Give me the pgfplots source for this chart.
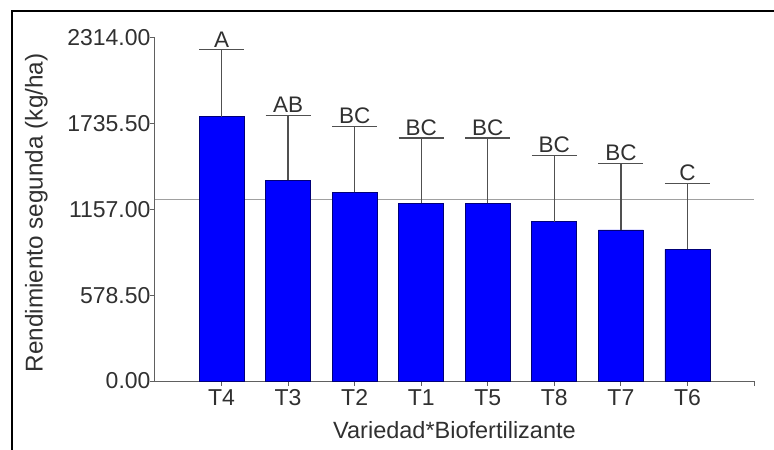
\documentclass[border=0pt]{standalone}
\usepackage{pgfplots}
\pgfplotsset{compat=1.18}
\usepackage{pgfplotstable}
\usepackage{fontspec}
\setmainfont{Liberation Sans}
\definecolor{txt}{HTML}{303030}
\definecolor{axisgray}{HTML}{606060}
\definecolor{errgray}{HTML}{505050}
\definecolor{meangray}{HTML}{A0A0A0}
\definecolor{barblue}{RGB}{0,0,255}
\definecolor{baredge}{RGB}{0,0,120}

% treatment, mean yield, upper error, error top, letter
\pgfplotstableread{
x y err top lab
1 1783 452 2235 A
2 1354 436 1790 AB
3 1272 444 1716 BC
4 1199 440 1639 BC
5 1199 440 1639 BC
6 1075 447 1522 BC
7 1019 449 1468 BC
8 888 443 1331 C
}\datatable

\begin{document}
\begin{tikzpicture}
\begin{axis}[
at={(0,0)}, anchor=south west,
width=599bp, height=343bp, scale only axis,
xmin=0, xmax=9, ymin=0, ymax=2314,
clip=false,
axis x line*=bottom, axis y line*=left,
axis line style={color=axisgray, line width=1bp},
tick style={color=axisgray, line width=1bp},
tick align=outside, major tick length=5bp,
xtick={1,2,3,4,5,6,7,8,9},
xticklabels={T4,T3,T2,T1,T5,T8,T7,T6,{}},
ytick={0,578.5,1157,1735.5,2314},
ticklabel style={font=\fontsize{23bp}{26bp}\selectfont, text=txt},
yticklabel style={xshift=4bp, /pgf/number format/.cd, fixed, fixed zerofill, precision=2, 1000 sep={}, assume math mode=true},
xlabel={Variedad*Biofertilizante},
ylabel={Rendimiento segunda (kg/ha)},
xlabel style={font=\fontsize{23.5bp}{26bp}\selectfont, text=txt, at={(axis description cs:0.5,0)}, anchor=base, yshift=-57bp},
ylabel style={font=\fontsize{24.3bp}{27bp}\selectfont, text=txt, at={(axis description cs:-0.198,0.49)}, anchor=center},
]
% grand mean
\addplot[color=meangray, line width=1.3bp, forget plot] coordinates {(0,1224) (9,1224)};

\addplot[ybar, bar width=45bp, bar shift=0pt, fill=barblue, draw=baredge, line width=0.8bp,
  error bars/.cd, y dir=plus, y explicit, error mark=|,
  error bar style={color=errgray, line width=1.4bp},
  error mark options={color=errgray, line width=1.4bp, mark size=22.5bp}]
  table[x=x, y=y, y error=err] {\datatable};

\addplot[draw=none, mark=none, nodes near coords, point meta=explicit symbolic,
  nodes near coords style={anchor=south, inner sep=2.5bp, font=\fontsize{22.5bp}{25bp}\selectfont, text=txt}]
  table[x=x, y=top, meta=lab] {\datatable};
\end{axis}
\pgfresetboundingbox
\path[use as bounding box] (-155bp,-69bp) rectangle (619bp,381bp);
\draw[line width=2bp, black] (-143bp,-69bp) -- (-143bp,370bp) -- (619bp,370bp);
\end{tikzpicture}
\end{document}
